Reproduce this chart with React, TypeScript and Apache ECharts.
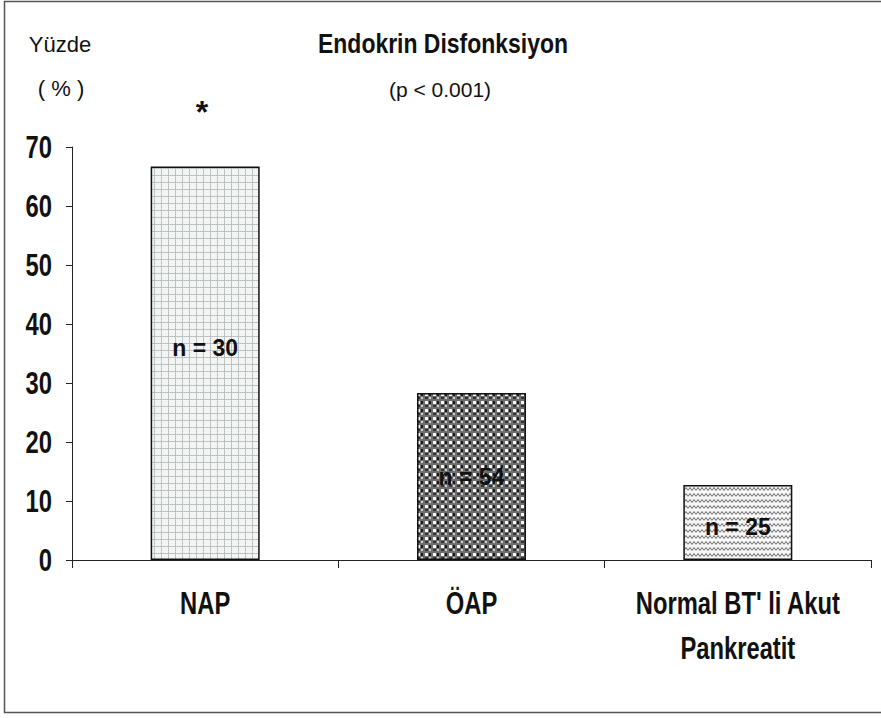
import React, { useEffect, useRef } from "react";
import * as echarts from "echarts";

const categories = ["NAP", "ÖAP", "Normal BT' li Akut\nPankreatit"];
const values = [66.7, 28.3, 12.7];
const sampleLabels = ["n = 30", "n = 54", "n = 25"];
const yTickValues = [0, 10, 20, 30, 40, 50, 60, 70];
const Y_MIN = 0;
const Y_MAX = 70;
const Y_INTERVAL = 10;

const SANS = "'Liberation Sans', Arial, sans-serif";
const NARROW_SCALE = 0.82;

function makeCanvas(w: number, h: number, draw: (ctx: CanvasRenderingContext2D) => void) {
  const c = document.createElement("canvas");
  c.width = w;
  c.height = h;
  const ctx = c.getContext("2d")!;
  draw(ctx);
  return c;
}

function gridPattern() {
  return makeCanvas(7, 7, (ctx) => {
    ctx.fillStyle = "#f3f5f5";
    ctx.fillRect(0, 0, 7, 7);
    ctx.fillStyle = "#b4b9b9";
    for (let i = 0; i < 7; i += 2) {
      ctx.fillRect(i, 0, 1, 1);
      ctx.fillRect(0, i, 1, 1);
    }
    ctx.fillStyle = "#c8cccc";
    for (let i = 1; i < 7; i += 2) {
      ctx.fillRect(i, 0, 1, 1);
      ctx.fillRect(0, i, 1, 1);
    }
  });
}

function checkPattern() {
  return makeCanvas(8, 8, (ctx) => {
    ctx.fillStyle = "#6e6e6e";
    ctx.fillRect(0, 0, 8, 8);
    ctx.fillStyle = "#f4f4f4";
    ctx.fillRect(1, 1, 3, 3);
    ctx.fillStyle = "#1a1a1a";
    ctx.fillRect(5, 1, 2, 3);
    ctx.fillStyle = "#333";
    ctx.fillRect(1, 5, 3, 2);
    ctx.fillStyle = "#d0d0d0";
    ctx.fillRect(5, 5, 2, 2);
  });
}

function wavePattern() {
  return makeCanvas(8, 6, (ctx) => {
    ctx.fillStyle = "#f6f6f6";
    ctx.fillRect(0, 0, 8, 6);
    ctx.strokeStyle = "#6a6a6a";
    ctx.lineWidth = 1;
    ctx.beginPath();
    ctx.moveTo(0, 4.5);
    ctx.lineTo(2, 1.5);
    ctx.lineTo(4, 4.5);
    ctx.lineTo(6, 1.5);
    ctx.lineTo(8, 4.5);
    ctx.stroke();
  });
}

function narrowText(x: number, y: number, text: string, size: number, align: string, vAlign: string, scaleY = 1, extra: any = {}) {
  return {
    type: "text",
    x,
    y,
    scaleX: NARROW_SCALE,
    scaleY,
    silent: true,
    style: {
      text,
      font: `bold ${size}px ${SANS}`,
      fill: "#111",
      align,
      verticalAlign: vAlign,
      ...extra,
    },
  };
}

export default function App() {
  const ref = useRef<HTMLDivElement>(null);

  useEffect(() => {
    if (!ref.current) return;
    const chart = echarts.init(ref.current, null, { renderer: "svg" });
    const patterns = [gridPattern(), checkPattern(), wavePattern()];
    const labelOffsets = [[0, -15], [0, 0], [0, 4]];
    const gridLeft = 72;

    chart.setOption({
      animation: false,
      backgroundColor: "#ffffff",
      grid: { left: gridLeft, right: 10, top: 147, bottom: 158, containLabel: false },
      xAxis: {
        type: "category",
        data: categories,
        boundaryGap: true,
        axisLine: { lineStyle: { color: "#222", width: 1 } },
        axisTick: { show: true, length: 8, lineStyle: { color: "#222" } },
        axisLabel: { show: false },
        splitLine: { show: false },
      },
      yAxis: {
        type: "value",
        min: Y_MIN,
        max: Y_MAX,
        interval: Y_INTERVAL,
        axisLine: { show: true, lineStyle: { color: "#222", width: 1 } },
        axisTick: { show: true, length: 6, lineStyle: { color: "#222" } },
        axisLabel: { show: false },
        splitLine: { show: false },
      },
      series: [
        {
          type: "bar",
          barWidth: 109,
          data: values.map((v, i) => ({
            value: v,
            itemStyle: {
              color: { image: patterns[i], repeat: "repeat" },
              borderColor: "#111",
              borderWidth: 1.5,
            },
            label: {
              show: true,
              position: "inside",
              offset: labelOffsets[i],
              formatter: sampleLabels[i],
              fontFamily: SANS,
              fontWeight: "bold",
              fontSize: 23,
              color: "#111",
            },
          })),
        },
      ],
    });

    const graphics: any[] = [
      {
        type: "rect",
        shape: { x: 4.5, y: 1.5, width: 880, height: 711 },
        style: { fill: "none", stroke: "#555", lineWidth: 1.5 },
        silent: true,
      },
      {
        type: "text",
        x: 60,
        y: 44,
        style: { text: "Yüzde", font: `22px ${SANS}`, fill: "#111", align: "center", verticalAlign: "middle" },
      },
      {
        type: "text",
        x: 61,
        y: 88,
        style: { text: "( % )", font: `22px ${SANS}`, fill: "#111", align: "center", verticalAlign: "middle" },
      },
      narrowText(443, 43, "Endokrin Disfonksiyon", 28, "center", "middle"),
      {
        type: "text",
        x: 440,
        y: 89,
        style: { text: "(p < 0.001)", font: `21px ${SANS}`, fill: "#111", align: "center", verticalAlign: "middle" },
      },
      {
        type: "text",
        x: 202,
        y: 112,
        style: { text: "*", font: `bold 32px ${SANS}`, fill: "#111", align: "center", verticalAlign: "middle" },
      },
    ];

    // y tick labels placed through the value axis scale
    yTickValues.forEach((v) => {
      const py = chart.convertToPixel({ yAxisIndex: 0 }, v) as number;
      graphics.push(narrowText(gridLeft - 20, py, String(v), 29, "right", "middle", 1.08));
    });

    // category labels placed through the category axis scale
    const axisY = chart.convertToPixel({ yAxisIndex: 0 }, Y_MIN) as number;
    categories.forEach((c, i) => {
      const px = chart.convertToPixel({ xAxisIndex: 0 }, i) as number;
      graphics.push(narrowText(px, axisY + 21, c, 29, "center", "top", 1.05, { lineHeight: 43 }));
    });

    chart.setOption({ graphic: graphics });

    return () => chart.dispose();
  }, []);

  return (
    <div
      ref={ref}
      style={{ position: "absolute", left: 0, top: 0, width: 881, height: 718, background: "#fff" }}
    />
  );
}
